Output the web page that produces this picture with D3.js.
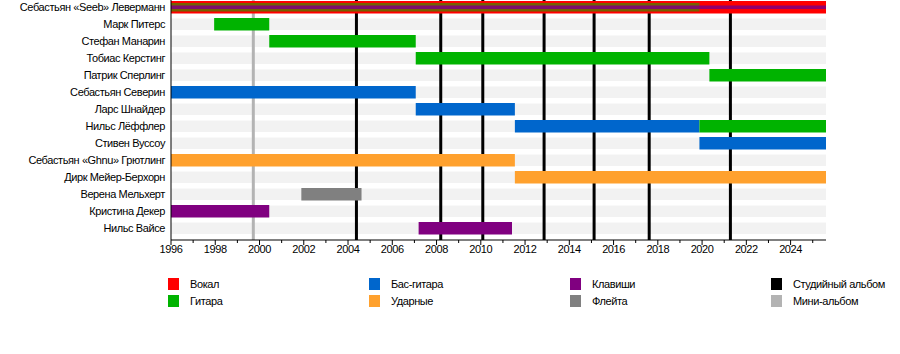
<!DOCTYPE html>
<html>
<head>
<meta charset="utf-8">
<script src="https://cdn.jsdelivr.net/npm/d3@7"></script>
<style>
  body { margin: 0; background: #fff; }
  text { font-family: "Liberation Sans", Arial, sans-serif; letter-spacing: -0.4px; }
</style>
</head>
<body>
<script>
let w = 900;
let h = 354;

let members = [
  "Себастьян «Seeb» Леверманн", "Марк Питерс", "Стефан Манарин", "Тобиас Керстинг",
  "Патрик Сперлинг", "Себастьян Северин", "Ларс Шнайдер", "Нильс Лёффлер",
  "Стивен Вуссоу", "Себастьян «Ghnu» Грютлинг", "Дирк Мейер-Берхорн",
  "Верена Мельхерт", "Кристина Декер", "Нильс Вайсе"
];

// member, role, from, to, layer (0 = main, 1 = second, 2 = third)
let periods = [
  ["Себастьян «Seeb» Леверманн", "vocals", 1996, 2025.6, 0],
  ["Себастьян «Seeb» Леверманн", "guitar", 1996, 2019.88, 1],
  ["Себастьян «Seeb» Леверманн", "keys", 1996, 2025.6, 2],
  ["Марк Питерс", "guitar", 1997.95, 2000.44, 0],
  ["Стефан Манарин", "guitar", 2000.44, 2007.06, 0],
  ["Тобиас Керстинг", "guitar", 2007.06, 2020.33, 0],
  ["Патрик Сперлинг", "guitar", 2020.33, 2025.6, 0],
  ["Себастьян Северин", "bass", 1996, 2007.06, 0],
  ["Ларс Шнайдер", "bass", 2007.06, 2011.54, 0],
  ["Нильс Лёффлер", "bass", 2011.54, 2019.88, 0],
  ["Нильс Лёффлер", "guitar", 2019.88, 2025.6, 0],
  ["Стивен Вуссоу", "bass", 2019.88, 2025.6, 0],
  ["Себастьян «Ghnu» Грютлинг", "drums", 1996, 2011.54, 0],
  ["Дирк Мейер-Берхорн", "drums", 2011.54, 2025.6, 0],
  ["Верена Мельхерт", "flute", 2001.89, 2004.61, 0],
  ["Кристина Декер", "keys", 1996, 2000.44, 0],
  ["Нильс Вайсе", "keys", 2007.19, 2011.41, 0]
];

let studioAlbums = [2004.38, 2008.19, 2010.09, 2012.86, 2015.12, 2017.61, 2021.28];
let eps = [1999.72];

let roles = ["vocals", "guitar", "bass", "drums", "keys", "flute"];
let roleColors = ["#ff0000", "#00b300", "#0066cc", "#ffa12e", "#800080", "#808080"];

let legendLabels = ["Вокал", "Бас-гитара", "Клавиши", "Студийный альбом",
                    "Гитара", "Ударные", "Флейта", "Мини-альбом"];
let legendColors = ["#ff0000", "#0066cc", "#800080", "#000000",
                    "#00b300", "#ffa12e", "#808080", "#b3b3b3"];

let startYear = 1996;
let endYear = 2025.6;

let color = d3.scaleOrdinal().domain(roles).range(roleColors);

let x = d3.scaleLinear().domain([startYear, endYear]).range([171, 826]);
let y = d3.scaleBand().domain(members).range([1, 234.5]).paddingInner(0.265);

let svg = d3.select("body").append("svg").attr("width", w).attr("height", h);

// row stripes
svg.append("g")
  .selectAll("rect")
  .data(members)
  .enter()
  .append("rect")
  .attr("x", x(startYear))
  .attr("y", (d) => y(d) + 0.5)
  .attr("width", x(endYear) - x(startYear))
  .attr("height", y.bandwidth() - 1)
  .attr("fill", "#f2f2f2");

// release lines
let axisY = 240;
svg.append("g")
  .selectAll("line")
  .data(eps)
  .enter()
  .append("line")
  .attr("x1", (d) => x(d)).attr("x2", (d) => x(d))
  .attr("y1", 0).attr("y2", axisY)
  .attr("stroke", "#b3b3b3")
  .attr("stroke-width", 3);

svg.append("g")
  .selectAll("line")
  .data(studioAlbums)
  .enter()
  .append("line")
  .attr("x1", (d) => x(d)).attr("x2", (d) => x(d))
  .attr("y1", 0).attr("y2", axisY)
  .attr("stroke", "#000")
  .attr("stroke-width", 3);

// bars
let layerH = [1, 0.68, 0.28];
let layerOpacity = [1, 0.55, 0.85];
svg.append("g")
  .selectAll("rect")
  .data(periods)
  .enter()
  .append("rect")
  .attr("x", (d) => x(d[2]))
  .attr("width", (d) => x(d[3]) - x(d[2]))
  .attr("y", (d) => y(d[0]) + y.bandwidth() * (1 - layerH[d[4]]) / 2)
  .attr("height", (d) => y.bandwidth() * layerH[d[4]])
  .attr("fill", (d) => color(d[1]))
  .attr("fill-opacity", (d) => layerOpacity[d[4]]);

// member names
svg.append("g")
  .selectAll("text")
  .data(members)
  .enter()
  .append("text")
  .attr("x", 165)
  .attr("y", (d) => y(d) + y.bandwidth() / 2)
  .attr("dy", "0.35em")
  .attr("text-anchor", "end")
  .attr("font-size", 11)
  .text((d) => d);

// left axis line
svg.append("line")
  .attr("x1", 171).attr("x2", 171)
  .attr("y1", 0).attr("y2", axisY)
  .attr("stroke", "#000");

// bottom axis
let years = d3.range(1996, 2026);
let xAxis = svg.append("g").attr("transform", "translate(0," + axisY + ")");
xAxis.append("line")
  .attr("x1", x(startYear)).attr("x2", x(endYear))
  .attr("stroke", "#000");
xAxis.selectAll("line.tick")
  .data(years)
  .enter()
  .append("line")
  .attr("class", "tick")
  .attr("x1", (d) => x(d)).attr("x2", (d) => x(d))
  .attr("y1", 0)
  .attr("y2", (d) => d % 2 === 0 ? 5 : 3)
  .attr("stroke", "#000");
xAxis.selectAll("text")
  .data(years.filter((d) => d % 2 === 0))
  .enter()
  .append("text")
  .attr("x", (d) => x(d))
  .attr("y", 13)
  .attr("text-anchor", "middle")
  .attr("font-size", 11)
  .text((d) => d);

// legend
let legend = svg.append("g")
  .selectAll("g")
  .data(legendLabels)
  .enter()
  .append("g")
  .attr("transform", (d, i) => "translate(" + (168 + (i % 4) * 201) + "," + (278 + Math.floor(i / 4) * 17) + ")");
legend.append("rect")
  .attr("width", 11)
  .attr("height", 12)
  .attr("fill", (d, i) => legendColors[i]);
legend.append("text")
  .attr("x", 22)
  .attr("y", 6)
  .attr("dy", "0.35em")
  .attr("font-size", 11)
  .text((d) => d);
</script>
</body>
</html>
